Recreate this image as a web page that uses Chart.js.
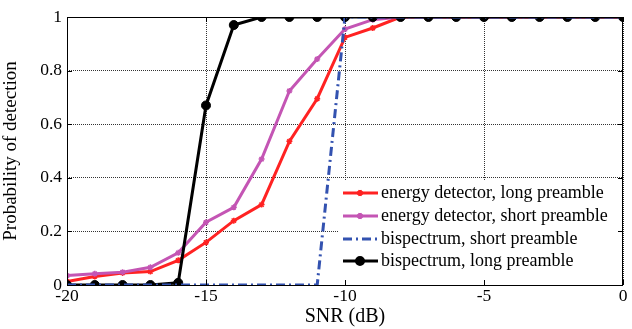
<!DOCTYPE html>
<html>
<head>
<meta charset="utf-8">
<script src="https://cdn.jsdelivr.net/npm/chart.js@4"></script>
<style>
  html, body { margin: 0; padding: 0; background: #fff; }
  #wrap { width: 632px; height: 329px; }
</style>
</head>
<body>
<div id="wrap"><canvas id="chart" width="632" height="329"></canvas></div>
<script>
// SNR values in dB
const snr = [-20, -19, -18, -17, -16, -15, -14, -13, -12, -11, -10, -9, -8, -7, -6, -5, -4, -3, -2, -1, 0];

const energyLong  = [0.013, 0.032, 0.045, 0.05, 0.092, 0.159, 0.24, 0.30, 0.536, 0.695, 0.924, 0.959, 1, 1, 1, 1, 1, 1, 1, 1, 1];
const energyShort = [0.035, 0.042, 0.048, 0.066, 0.12, 0.234, 0.29, 0.47, 0.724, 0.843, 0.955, 0.99, 1, 1, 1, 1, 1, 1, 1, 1, 1];
const bispShort   = [0, 0, 0, 0, 0, 0, 0, 0, 0, 0, 1, 1, 1, 1, 1, 1, 1, 1, 1, 1, 1];
const bispLong    = [0, 0, 0, 0, 0.008, 0.67, 0.97, 1, 1, 1, 1, 1, 1, 1, 1, 1, 1, 1, 1, 1, 1];

const seriesNames = [
    "energy detector, long preamble",
    "energy detector, short preamble",
    "bispectrum, short preamble",
    "bispectrum, long preamble"
];
const xTicks = [-20, -15, -10, -5, 0];
const yTicks = [0, 0.2, 0.4, 0.6, 0.8, 1];

const FONT = "'Liberation Serif', 'DejaVu Serif', 'Times New Roman', serif";

function pts(arr) {
    return arr.map((v, i) => ({ x: snr[i], y: v }));
}

const datasets = [
    {
        label: seriesNames[0], data: pts(energyLong),
        borderColor: "#ff2222", backgroundColor: "#ff2222",
        borderWidth: 3, pointStyle: "star", pointRadius: 3, pointBorderWidth: 1.5,
        order: 3
    },
    {
        label: seriesNames[1], data: pts(energyShort),
        borderColor: "#c455b4", backgroundColor: "#c455b4",
        borderWidth: 3, pointStyle: "star", pointRadius: 3, pointBorderWidth: 1.5,
        order: 2
    },
    {
        label: seriesNames[2], data: pts(bispShort),
        borderColor: "#3352b0", backgroundColor: "#3352b0",
        borderWidth: 3, borderDash: [9, 4, 2, 4], pointRadius: 0,
        order: 0
    },
    {
        label: seriesNames[3], data: pts(bispLong),
        borderColor: "#000", backgroundColor: "#000",
        borderWidth: 3, pointStyle: "circle", pointRadius: 4.5, pointBorderWidth: 1,
        order: 1
    }
];

// frame, inward ticks and the legend in the lower right corner
const framePlugin = {
    id: "frame",
    afterDatasetsDraw(chart) {
        const ctx = chart.ctx;
        const a = chart.chartArea;
        const xs = chart.scales.x, ys = chart.scales.y;
        ctx.save();

        // legend box
        const lx = 338, ly = 180, lw = a.right - 1 - lx, lh = a.bottom - 2 - ly;
        ctx.fillStyle = "#fff";
        ctx.fillRect(lx, ly, lw, lh);
        const rowY = [193, 216, 239, 261];
        datasets.forEach((ds, i) => {
            const y = rowY[i];
            ctx.strokeStyle = ds.borderColor;
            ctx.lineWidth = ds.borderWidth;
            ctx.setLineDash(ds.borderDash || []);
            ctx.beginPath();
            ctx.moveTo(343, y);
            ctx.lineTo(378, y);
            ctx.stroke();
            ctx.setLineDash([]);
            if (ds.pointRadius > 0) {
                ctx.strokeStyle = ds.borderColor;
                ctx.fillStyle = ds.backgroundColor;
                Chart.helpers.drawPoint(ctx, {
                    pointStyle: ds.pointStyle, radius: ds.pointStyle === "circle" ? 3.5 : ds.pointRadius,
                    borderWidth: ds.pointBorderWidth, rotation: 0
                }, 360, y);
            }
            ctx.fillStyle = "#000";
            ctx.font = "18px " + FONT;
            ctx.textBaseline = "middle";
            ctx.textAlign = "left";
            ctx.fillText(ds.label, 381, y);
        });

        // axes box
        ctx.strokeStyle = "#000";
        ctx.lineWidth = 1;
        ctx.setLineDash([]);
        ctx.strokeRect(a.left + 0.5, a.top + 0.5, a.right - a.left - 1, a.bottom - a.top);

        // inward ticks
        ctx.beginPath();
        xTicks.forEach(t => {
            const px = Math.round(xs.getPixelForValue(t)) + 0.5;
            ctx.moveTo(px, a.bottom); ctx.lineTo(px, a.bottom - 5);
            ctx.moveTo(px, a.top); ctx.lineTo(px, a.top + 5);
        });
        yTicks.forEach(t => {
            const py = Math.round(ys.getPixelForValue(t)) + 0.5;
            ctx.moveTo(a.left, py); ctx.lineTo(a.left + 5, py);
            ctx.moveTo(a.right, py); ctx.lineTo(a.right - 5, py);
        });
        ctx.stroke();
        ctx.restore();
    }
};

new Chart(document.getElementById("chart").getContext("2d"), {
    type: "line",
    data: { datasets: datasets },
    options: {
        responsive: false,
        animation: false,
        layout: { padding: { left: 0, right: 9, top: 17, bottom: 0 } },
        plugins: { legend: { display: false }, tooltip: { enabled: false } },
        elements: { line: { tension: 0 } },
        scales: {
            x: {
                type: "linear", min: -20, max: 0,
                afterBuildTicks: (s) => { s.ticks = xTicks.map(v => ({ value: v })); },
                afterFit: (s) => { s.height = 44; },
                ticks: { color: "#000", font: { family: FONT, size: 17.5 }, padding: 1, maxRotation: 0 },
                grid: { color: "#333", lineWidth: 1, drawTicks: false },
                border: { display: false, dash: [1, 1] },
                title: { display: true, text: "SNR (dB)", color: "#000", font: { family: FONT, size: 20 }, padding: 0 }
            },
            y: {
                min: 0, max: 1,
                afterBuildTicks: (s) => { s.ticks = yTicks.map(v => ({ value: v })); },
                afterFit: (s) => { s.width = 67; },
                ticks: { color: "#000", font: { family: FONT, size: 17.5 }, padding: 5,
                    callback: (v) => String(v) },
                grid: { color: "#333", lineWidth: 1, drawTicks: false },
                border: { display: false, dash: [1, 1] },
                title: { display: true, text: "Probability of detection", color: "#000", font: { family: FONT, size: 19 }, padding: 0 }
            }
        }
    },
    plugins: [framePlugin]
});
</script>
</body>
</html>
